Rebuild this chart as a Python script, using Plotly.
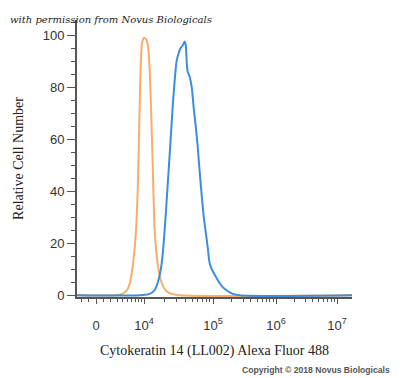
import numpy as np
import plotly.graph_objects as go

# ---- data (fluorescence intensity, relative cell number) ----
iso_intensity = [-4000, 2650, 3900, 4950, 5630, 6400, 7260, 7890, 8240, 8570, 8930, 9280,
                 10000, 10690, 11430, 12220, 13060, 13500, 14430, 15180, 15960, 17630,
                 19490, 21550, 25440, 33090, 1.8e7]
iso_count = [0, 0, 0.5, 2, 5, 12, 25, 45, 63, 80, 92, 97,
             99, 98.5, 96, 85, 63, 50, 25, 17, 12, 6,
             3, 1.5, 0.5, 0, 0]

ck14_intensity = [-4000, 8570, 12220, 14430, 16490, 18230, 20160, 22280, 24640, 26320,
                  28100, 30060, 32100, 34360, 36700, 39220, 40500, 41900, 43320, 46280,
                  49470, 52900, 56540, 60440, 64610, 69060, 73810, 78900, 84330, 90140,
                  100000, 111600, 124500, 143900, 172800, 207500, 264100, 1.8e7]
ck14_count = [0, 0, 0.5, 2, 6, 12, 25, 42, 60, 72,
              82, 90, 93, 95, 96, 97.5, 96.5, 90, 86, 84,
              80, 72, 65, 57, 47, 38, 30, 24, 18, 12,
              9, 7, 5, 3, 1.5, 0.5, 0, 0]

major_ticks = [0, 1e4, 1e5, 1e6, 1e7]
major_labels = ["0", "10<sup>4</sup>", "10<sup>5</sup>", "10<sup>6</sup>", "10<sup>7</sup>"]

# ---- biexponential-like display transform ----
C = 3450.0
anchor_vals = np.array([-1e4, 0, 1e4, 1e5, 1e6, 1e7, 1e8])
anchor_pos = np.array([-29, 19, 67, 136, 199, 260, 321])


def to_axis(v):
    s = np.arcsinh(np.asarray(v, dtype=float) / C)
    return np.interp(s, np.arcsinh(anchor_vals / C), anchor_pos)


minor_vals = [-k * 1000 for k in range(1, 6)] + [k * 1000 for k in range(1, 10)]
for dec in (1e4, 1e5, 1e6):
    minor_vals += [k * dec for k in range(2, 10)]

fig = go.Figure()
fig.add_trace(go.Scatter(x=to_axis(iso_intensity), y=iso_count, mode="lines",
                         line=dict(color="#F6AE68", width=2), line_shape="spline",
                         hoverinfo="skip", showlegend=False))
fig.add_trace(go.Scatter(x=to_axis(ck14_intensity), y=ck14_count, mode="lines",
                         line=dict(color="#3A8EE0", width=2), line_shape="spline",
                         hoverinfo="skip", showlegend=False))

fig.update_layout(
    width=392, height=370,
    margin=dict(l=69, r=48, t=12, b=81, autoexpand=False),
    paper_bgcolor="white", plot_bgcolor="white",
    font=dict(family="Liberation Sans, Arial, sans-serif", color="#333"),
    xaxis=dict(
        range=[0, 275], showgrid=False, zeroline=False, automargin=False,
        showline=True, linecolor="#555", linewidth=2,
        tickmode="array", tickvals=list(to_axis(major_ticks)), ticktext=major_labels,
        ticks="outside", ticklen=5, tickwidth=1, tickcolor="#555",
        ticklabelstandoff=10,
        tickfont=dict(size=13, color="#333"),
        minor=dict(tickmode="array", tickvals=list(to_axis(minor_vals)),
                   ticks="outside", ticklen=3, tickwidth=1, tickcolor="#555"),
        title=dict(text="Cytokeratin 14 (LL002) Alexa Fluor 488",
                   font=dict(family="Liberation Serif, Times New Roman, serif", size=14, color="#222"),
                   standoff=14),
    ),
    yaxis=dict(
        range=[-0.7, 105.8], showgrid=False, zeroline=False, automargin=False,
        showline=True, linecolor="#555", linewidth=2,
        tickmode="array", tickvals=[0, 20, 40, 60, 80, 100],
        ticks="outside", ticklen=8, tickwidth=1, tickcolor="#555",
        tickfont=dict(size=13, color="#333"),
        minor=dict(dtick=5, ticks="outside", ticklen=4, tickwidth=1, tickcolor="#555"),
        title=dict(text="Relative Cell Number",
                   font=dict(family="Liberation Serif, Times New Roman, serif", size=14, color="#222"),
                   standoff=16),
    ),
    annotations=[
        dict(text="<i>with permission from Novus Biologicals</i>", xref="paper", yref="paper",
             x=-0.25, y=1.0, xanchor="left", yanchor="bottom", yshift=-7, showarrow=False,
             font=dict(family="DejaVu Serif, serif", size=10, color="#222")),
        dict(text="<b>Copyright © 2018 Novus Biologicals</b>", xref="paper", yref="paper",
             x=1.145, y=0, xanchor="right", yanchor="top", yshift=-66, showarrow=False,
             font=dict(family="Liberation Sans, Arial, sans-serif", size=8.6, color="#555")),
    ],
)

fig.write_html("out.html")
